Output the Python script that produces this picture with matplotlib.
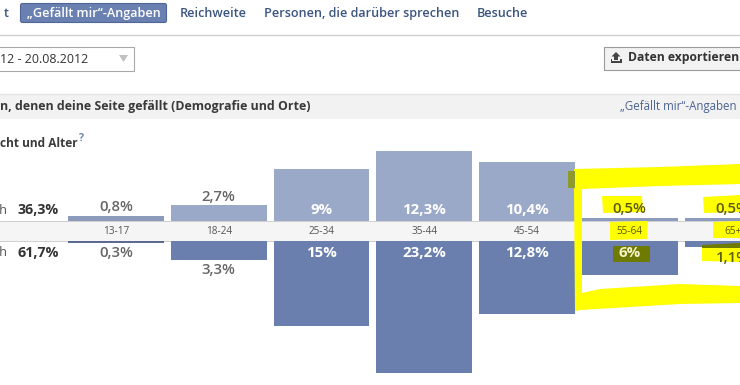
import matplotlib
matplotlib.use('Agg')
import matplotlib.pyplot as plt
from matplotlib.patches import Rectangle, Polygon, FancyBboxPatch

# values
age_groups = ['13-17', '18-24', '25-34', '35-44', '45-54', '55-64', '65+']
women = [0.8, 2.7, 9, 12.3, 10.4, 0.5, 0.5]
men = [0.3, 3.3, 15, 23.2, 12.8, 6, 1.1]
women_labels = ['0,8%', '2,7%', '9%', '12,3%', '10,4%', '0,5%', '0,5%']
men_labels = ['0,3%', '3,3%', '15%', '23,2%', '12,8%', '6%', '1,1%']
women_total = '36,3%'
men_total = '61,7%'
tabs = ['„Gefällt mir“-Angaben', 'Reichweite', 'Personen, die darüber sprechen', 'Besuche']
tab_pos = [94, 213.5, 362, 502]

plt.rcParams['font.family'] = ['Open Sans', 'DejaVu Sans']

W, H = 740, 385
PX_PER_PCT = 5.67
STEP = 102.75
X0 = 116
TOP_BASE = 220.5
BOT_BASE = 241

fig = plt.figure(figsize=(W / 100, H / 100), dpi=100, facecolor='white')

# page in pixel coordinates
page = fig.add_axes([0, 0, 1, 1], zorder=0)
page.set_xlim(0, W)
page.set_ylim(H, 0)
page.axis('off')

# bars, one axes above and one below the age band
xlim = ((0 - X0) / STEP, (W - X0) / STEP)
ax_top = fig.add_axes([0, 1 - TOP_BASE / H, 1, TOP_BASE / H], zorder=1)
ax_top.set_xlim(xlim)
ax_top.set_ylim(0, TOP_BASE / PX_PER_PCT)
ax_bot = fig.add_axes([0, 0, 1, (H - BOT_BASE) / H], zorder=1)
ax_bot.set_xlim(xlim)
ax_bot.set_ylim((H - BOT_BASE) / PX_PER_PCT, 0)
for ax in (ax_top, ax_bot):
    ax.axis('off')
    ax.patch.set_alpha(0)

pos = range(len(age_groups))
# the thin bars look darker in the screenshot
ax_top.bar(pos, women, width=0.93, align='center',
           color=['#8c9bbb' if v < 1 else '#9aa9c8' for v in women])
ax_bot.bar(pos, men, width=0.93, align='center',
           color=['#5a6a92' if v < 1 else '#6a7fae' for v in men])

# chrome
page.add_patch(Rectangle((0, 94), W, 25, color='#f2f2f2', lw=0))
page.plot([0, W], [94, 94], color='#e4e4e4', lw=1)
page.plot([0, W], [34.5, 34.5], color='#cfcfcf', lw=1)
page.add_patch(Rectangle((0, 221), W, 20, color='#f5f5f5', lw=0))
page.plot([0, W], [220.5, 220.5], color='#c8c8c8', lw=0.6)
page.plot([0, W], [241, 241], color='#c8c8c8', lw=0.6)

page.add_patch(FancyBboxPatch((20.5, 3.5), 146, 19, boxstyle='round,pad=0,rounding_size=2',
                              fc='#6a80b0', ec='#4e6596', lw=0.8))
page.text(6, 13.8, 't', fontsize=9.1, fontweight='semibold', color='#3b5580', va='center', ha='center')
for name, x in zip(tabs, tab_pos):
    col = 'white' if x == tab_pos[0] else '#3b5580'
    page.text(x, 13.8, name, fontsize=9.1, fontweight='semibold', color=col, va='center', ha='center')

page.add_patch(Rectangle((-3, 46.5), 137, 24, fc='white', ec='#a9a9a9', lw=0.8))
page.text(0, 59.5, '12 - 20.08.2012', fontsize=9, color='#333333', va='center')
page.add_patch(Polygon([[119, 55], [128, 55], [123.5, 62]], color='#c0c0c0', lw=0))

page.add_patch(Rectangle((603.5, 46.5), 140, 23, fc='#f2f2f2', ec='#9a9a9a', lw=0.8))
# upload icon
page.add_patch(Polygon([[616, 52], [620.5, 56.5], [618, 56.5], [618, 60], [614, 60], [614, 56.5],
                        [611.5, 56.5]], color='#444444', lw=0))
page.add_patch(Polygon([[610.5, 58.5], [612, 58.5], [612, 61], [620, 61], [620, 58.5], [621.5, 58.5],
                        [621.5, 63], [610.5, 63]], color='#444444', lw=0))
page.text(627.5, 57.5, 'Daten exportieren', fontsize=8.7, fontweight='bold', color='#333333', va='center')

page.text(0, 106.8, 'n, denen deine Seite gefällt (Demografie und Orte)', fontsize=8.95,
          fontweight='bold', color='#3a3a3a', va='center')
page.text(737, 106.8, '„Gefällt mir“-Angaben', fontsize=8.3, color='#4a6391', va='center', ha='right')
page.text(0, 143.5, 'cht und Alter', fontsize=8.6, fontweight='bold', color='#3a3a3a', va='center')
page.text(78.5, 138.5, '?', fontsize=7.5, fontweight='bold', color='#6d84b4', va='center')

page.text(7.5, 210.5, 'ch', fontsize=9.2, color='#555555', va='center', ha='right')
page.text(7.5, 253, 'ch', fontsize=9.2, color='#555555', va='center', ha='right')
page.text(17, 210.5, women_total, fontsize=10.3, fontweight='bold', color='#333333', va='center')
page.text(17, 253, men_total, fontsize=10.3, fontweight='bold', color='#333333', va='center')

# yellow marker drawn over the screenshot
yellow = '#ffff00'
olive = '#6f7a00'
mark = fig.add_axes([0, 0, 1, 1], zorder=2)
mark.set_xlim(0, W)
mark.set_ylim(H, 0)
mark.axis('off')
mark.patch.set_alpha(0)
mark.add_patch(Polygon([[574, 169], [660, 167], [740, 164], [740, 184], [660, 186], [582, 189],
                        [582, 293], [600, 289], [680, 284], [740, 286], [740, 303], [680, 304],
                        [580, 310], [575, 311], [574, 188]], color=yellow, lw=0))
mark.add_patch(Rectangle((568, 171), 6.5, 17, color='#8f9a2c', lw=0))
mark.add_patch(Polygon([[602, 196], [642, 196], [643, 212], [603, 213]], color=yellow, lw=0))
mark.add_patch(Polygon([[703, 197], [740, 195], [740, 212], [704, 213]], color=yellow, lw=0))
mark.add_patch(Polygon([[610, 222], [647, 221], [647, 239], [610, 240]], color=yellow, lw=0))
mark.add_patch(Polygon([[713, 222], [740, 221], [740, 238], [713, 238]], color=yellow, lw=0))
mark.add_patch(Rectangle((613, 246), 37, 16, color=olive, lw=0))
mark.add_patch(Polygon([[702, 245], [740, 243], [740, 248], [702, 248]], color=olive, lw=0))
mark.add_patch(Polygon([[702, 248], [740, 248], [740, 262], [702, 261]], color=yellow, lw=0))

# labels go white inside tall bars, dark above/below short ones
for i, age in enumerate(age_groups):
    cx = X0 + i * STEP
    marked = i >= 5
    mark.text(cx, 231.3, age, fontsize=7.2, color='#5c5c00' if marked else '#555555',
              ha='center', va='center')
    if women[i] > 5:
        mark.text(cx, 210.5, women_labels[i], fontsize=10.8, fontweight='bold', color='white',
                  ha='center', va='center')
    else:
        y = TOP_BASE - women[i] * PX_PER_PCT - 8.5
        mark.text(cx, y, women_labels[i], fontsize=10.8, fontweight='semibold',
                  color='#5c5c10' if marked else '#666666', ha='center', va='center')
    if men[i] > 5:
        mark.text(cx, 253, men_labels[i], fontsize=10.8, fontweight='bold',
                  color='#f4f4c8' if marked else 'white', ha='center', va='center')
    else:
        y = BOT_BASE + men[i] * PX_PER_PCT + 10.5
        mark.text(cx, y, men_labels[i], fontsize=10.8, fontweight='semibold',
                  color='#5c5c10' if marked else '#666666', ha='center', va='center')

fig.savefig('out.png', dpi=100)
